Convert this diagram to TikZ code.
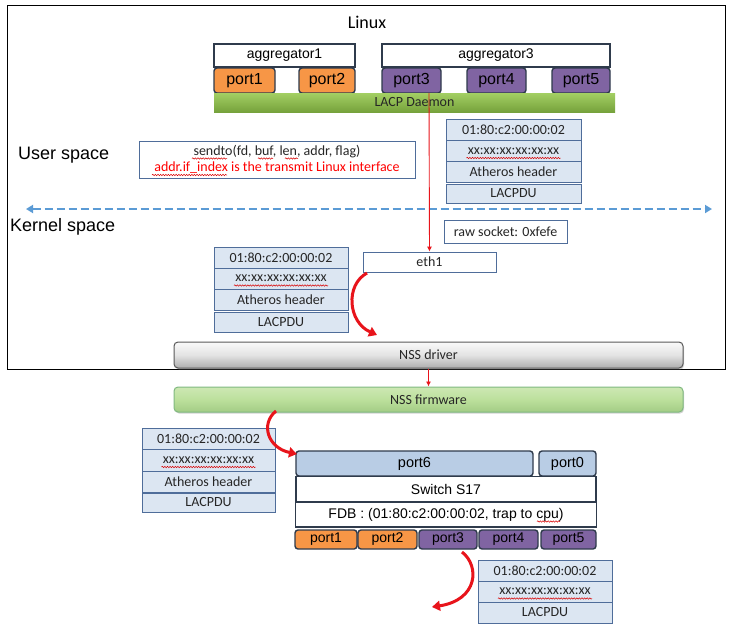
\documentclass[tikz,border=0pt]{standalone}
\usepackage{fontspec}
\setmainfont{Liberation Sans}
\newfontfamily\calfont{Carlito}
\usetikzlibrary{arrows.meta,decorations.pathmorphing,calc,shadows}
\definecolor{dk}{HTML}{2F3B4C}
\definecolor{orng}{HTML}{F79646}
\definecolor{purp}{HTML}{8064A2}
\definecolor{pktf}{HTML}{DCE6F2}
\definecolor{pktb}{HTML}{4F6D9A}
\definecolor{p6}{HTML}{B9CDE5}
\definecolor{redc}{HTML}{E8141B}
\definecolor{dashb}{HTML}{5B9BD5}
\definecolor{fwtop}{HTML}{CDE8B4}
\definecolor{fwmid}{HTML}{BCE09C}
\definecolor{fwbot}{HTML}{A3CC85}
\definecolor{lacptop}{HTML}{A3CF63}
\definecolor{lacpbot}{HTML}{76A23C}
\newcommand\pxsize[1]{\fontsize{#1}{#1}\selectfont}
\begin{document}
\begin{tikzpicture}[x=1pt,y=-1pt,
  sz/.style 2 args={minimum width=#1, minimum height=#2},
  agg/.style={draw=dk, line width=1.8pt, fill=white, inner sep=0, font=\pxsize{14}},
  portO/.style={draw=dk, line width=1.4pt, fill=orng, rounded corners=3pt, inner sep=0, font=\pxsize{16}},
  portP/.style={portO, fill=purp},
  bportO/.style={portO, font=\pxsize{14}},
  bportP/.style={portP, font=\pxsize{14}},
  pkt/.style={draw=pktb, line width=0.8pt, fill=pktf, inner sep=0, font=\calfont\pxsize{14}, text=black!85},
  wbox/.style={draw=pktb, line width=0.8pt, fill=white, inner sep=0, font=\calfont\pxsize{14}, text=black!85},
  swbox/.style={draw=dk, line width=1.8pt, fill=white, inner sep=0, font=\pxsize{14}},
  blueport/.style={draw=dk, line width=1.4pt, fill=p6, rounded corners=3pt, inner sep=0, font=\pxsize{14.5}},
  redline/.style={draw=redc, line width=0.9pt, -{Latex[length=5pt,width=5pt]}},
  redcurve/.style={draw=redc, line width=3pt, -{Triangle[width=10pt,length=8pt]}},
  squig/.style={draw=red!85!black, line width=0.5pt, decorate, decoration={snake, amplitude=0.7pt, segment length=2.6pt}},
  sidelbl/.style={anchor=west, inner sep=0, font=\pxsize{18}}
]
\useasboundingbox (0,0) rectangle (732,630);
\fill[white] (0,0) rectangle (732,630);

% Linux box
\node[draw, line width=1pt, inner sep=0, sz={718}{364}] (linux) at (366,187) {};
\node[font=\calfont\pxsize{18}] (linuxlbl) at (367,22) {Linux};

% aggregators and ports
\node[agg, sz={141}{23}] (agg1) at (284.5,55.5) {aggregator1};
\node[agg, sz={228}{23}] (agg3) at (496,55.5) {aggregator3};
\node[portO, sz={61}{25}] (tp1) at (244.5,80.5) {port1};
\node[portO, sz={56}{25}] (tp2) at (327,80.5) {port2};
\node[portP, sz={59}{25}] (tp3) at (411.5,80.5) {port3};
\node[portP, sz={59}{25}] (tp4) at (496.5,80.5) {port4};
\node[portP, sz={58}{25}] (tp5) at (581,80.5) {port5};
\node[inner sep=0, sz={401}{19}, top color=lacptop, bottom color=lacpbot,
      font=\calfont\pxsize{14}, text=black!85] (lacp) at (414.5,102.5) {LACP Daemon};

% user / kernel labels
\node[sidelbl] (user) at (18,155) {User space};
\node[sidelbl] (kernel) at (10,227) {Kernel space};

% dashed separator
\coordinate (dl) at (26,209);
\coordinate (dr) at (712,209);
\draw[dashb, line width=2.5pt, dash pattern=on 8pt off 4pt,
      {Triangle[width=8pt,length=7pt]}-{Triangle[width=8pt,length=7pt]}] (dl) -- (dr);

% sendto box
\node[wbox, sz={276}{37}, align=center, font=\calfont\fontsize{14}{16}\selectfont] (sendto) at (277,159.5)
  {sendto(fd, buf, len, addr, flag)\\\textcolor{red}{addr.if\_index is the transmit Linux interface}};

% right packet stack (user space)
\node[pkt, sz={135}{21}] (r1) at (513.5,130) {01:80:c2:00:00:02};
\node[pkt, sz={135}{21}] (r2) at (513.5,151) {xx:xx:xx:xx:xx:xx};
\node[pkt, sz={135}{21}] (r3) at (513.5,172) {Atheros header};
\node[pkt, sz={135}{19}] (r4) at (513.5,193.5) {LACPDU};

% raw socket and eth1
\node[wbox, sz={123}{23}] (raw) at (505.5,231.5) {raw socket: 0xfefe};
\node[wbox, sz={133}{20}] (eth1) at (429.5,262) {eth1};

% middle packet stack
\node[pkt, sz={134}{21}] (m1) at (281,257.5) {01:80:c2:00:00:02};
\node[pkt, sz={134}{21}] (m2) at (281,278.5) {xx:xx:xx:xx:xx:xx};
\node[pkt, sz={134}{21}] (m3) at (281,299.5) {Atheros header};
\node[pkt, sz={134}{20}] (m4) at (281,322) {LACPDU};

% NSS bars
\node[draw=black!65, line width=1pt, rounded corners=4pt, inner sep=0, sz={509}{26},
      top color=black!2, bottom color=black!32, middle color=black!11,
      drop shadow={shadow xshift=1pt, shadow yshift=-1.5pt, opacity=0.35},
      font=\calfont\pxsize{14}, text=black!85] (nssd) at (428.5,355) {NSS driver};
\node[draw=black!55!green!50, line width=1pt, rounded corners=4pt, inner sep=0, sz={509}{25},
      top color=fwtop, bottom color=fwbot, middle color=fwmid,
      drop shadow={shadow xshift=1pt, shadow yshift=-1.5pt, opacity=0.35},
      font=\calfont\pxsize{14}, text=black!85] (nssf) at (428.5,399.5) {NSS firmware};

% lower-left packet stack
\node[pkt, sz={133}{21}] (l1) at (208.5,438.5) {01:80:c2:00:00:02};
\node[pkt, sz={133}{22}] (l2) at (208.5,460) {xx:xx:xx:xx:xx:xx};
\node[pkt, sz={133}{21}] (l3) at (208.5,481.5) {Atheros header};
\node[pkt, sz={133}{19}] (l4) at (208.5,502.5) {LACPDU};

% switch
\node[blueport, sz={237}{25}] (port6) at (414.5,463.5) {port6};
\node[blueport, sz={57}{25}] (port0) at (567.5,463.5) {port0};
\node[swbox, sz={300}{25}] (sw) at (446,489) {Switch S17};
\node[swbox, sz={301}{25}] (fdb) at (446,514.5) {FDB : (01:80:c2:00:00:02, trap to cpu)};
\node[bportO, sz={62}{19}] (bp1) at (326,539.5) {port1};
\node[bportO, sz={59}{19}] (bp2) at (387.5,539.5) {port2};
\node[bportP, sz={58}{19}] (bp3) at (448,539.5) {port3};
\node[bportP, sz={59}{19}] (bp4) at (508.5,539.5) {port4};
\node[bportP, sz={55}{19}] (bp5) at (568.5,539.5) {port5};

% bottom-right packet stack
\node[pkt, sz={134}{21}] (b1) at (545,570.5) {01:80:c2:00:00:02};
\node[pkt, sz={134}{21}] (b2) at (545,591.5) {xx:xx:xx:xx:xx:xx};
\node[pkt, sz={134}{21}] (b3) at (545,612.5) {LACPDU};

% spell-check squiggles
\foreach \n in {r2,m2,l2,b2}{
  \draw[squig] ($(\n.center)+(-47,7)$) -- ($(\n.center)+(47,7)$);
}
\draw[squig] ($(sendto.center)+(-85,-1)$) -- ($(sendto.center)+(-50,-1)$);
\draw[squig] ($(sendto.center)+(-19,-1)$) -- ($(sendto.center)+(-4,-1)$);
\draw[squig] ($(sendto.center)+(8,-1)$) -- ($(sendto.center)+(21,-1)$);
\draw[squig] ($(sendto.center)+(-125,15.5)$) -- ($(sendto.center)+(-50,15.5)$);
\draw[squig] ($(fdb.center)+(91,7)$) -- ($(fdb.center)+(114,7)$);

% red connectors
\coordinate (lacpsrc) at (429,93);
\draw[redline] (lacpsrc) -- (eth1.north);
\draw[redline] (nssd.south) -- (nssf.north);

\coordinate (c1s) at (367,273);
\coordinate (c1e) at (377,335);
\draw[redcurve] (c1s) .. controls (345,285) and (348,322) .. (c1e);
\coordinate (c2s) at (276,411);
\coordinate (c2e) at (297,454);
\draw[redcurve] (c2s) .. controls (260,424) and (268,448) .. (c2e);
\coordinate (c3s) at (462,552);
\coordinate (c3e) at (432,607);
\draw[redcurve] (c3s) .. controls (480,566) and (478,600) .. (c3e);
\end{tikzpicture}
\end{document}
